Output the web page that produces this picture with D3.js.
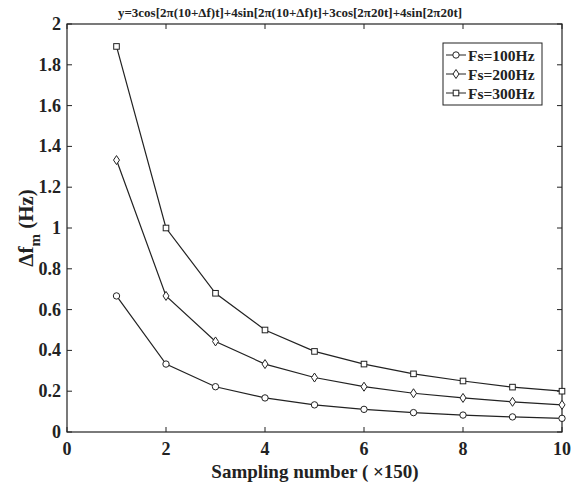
<!DOCTYPE html>
<html><head><meta charset="utf-8">
<script src="https://cdn.jsdelivr.net/npm/d3@7"></script>
<style>body{margin:0;background:#fff}svg{display:block}</style>
</head><body><svg id="c" width="576" height="487"></svg>
<script>
const xValues=[1,2,3,4,5,6,7,8,9,10];
const fs100=[0.667,0.333,0.222,0.167,0.133,0.111,0.095,0.083,0.074,0.067];
const fs200=[1.333,0.667,0.444,0.333,0.267,0.222,0.19,0.167,0.148,0.133];
const fs300=[1.89,1.0,0.68,0.5,0.395,0.333,0.285,0.25,0.22,0.2];
const seriesNames=["Fs=100Hz","Fs=200Hz","Fs=300Hz"];
const markers=["circle","diamond","square"];
const xTicks=[0,2,4,6,8,10];
const yTicks=[0,0.2,0.4,0.6,0.8,1,1.2,1.4,1.6,1.8,2];
const titleText="y=3cos[2π(10+Δf)t]+4sin[2π(10+Δf)t]+3cos[2π20t]+4sin[2π20t]";

const FONT="'Liberation Serif', 'Times New Roman', 'DejaVu Serif', serif";
const svg=d3.select("#c").attr("font-family",FONT).attr("font-weight","bold");
const L=67,R=562,T=24,B=432;
const x=d3.scaleLinear().domain([0,10]).range([L,R]);
const y=d3.scaleLinear().domain([0,2]).range([B,T]);
const col="#222";

svg.append("rect").attr("x",L).attr("y",T).attr("width",R-L).attr("height",B-T).attr("fill","none").attr("stroke",col).attr("stroke-width",1.2);

const tl=5;
const gx=svg.append("g").attr("fill",col);
xTicks.forEach(t=>{
  gx.append("line").attr("x1",x(t)).attr("x2",x(t)).attr("y1",B).attr("y2",B-tl).attr("stroke",col);
  gx.append("line").attr("x1",x(t)).attr("x2",x(t)).attr("y1",T).attr("y2",T+tl).attr("stroke",col);
  gx.append("text").attr("x",x(t)).attr("y",B+23).attr("text-anchor","middle").attr("font-size",18).text(d3.format("d")(t));
});
yTicks.forEach(t=>{
  gx.append("line").attr("x1",L).attr("x2",L+tl).attr("y1",y(t)).attr("y2",y(t)).attr("stroke",col);
  gx.append("line").attr("x1",R).attr("x2",R-tl).attr("y1",y(t)).attr("y2",y(t)).attr("stroke",col);
  gx.append("text").attr("x",L-6).attr("y",y(t)+6).attr("text-anchor","end").attr("font-size",18).text(t===0?"0":(Number.isInteger(t)?String(t):t.toFixed(1)));
});

svg.append("text").attr("x",290).attr("y",17).attr("text-anchor","middle").attr("font-size",13).attr("fill",col).text(titleText);
svg.append("text").attr("x",315).attr("y",478).attr("text-anchor","middle").attr("font-size",19).attr("fill",col).text("Sampling number ( ×150)");
const yl=svg.append("text").attr("transform","translate(33,228) rotate(-90)").attr("text-anchor","middle").attr("font-size",21).attr("fill",col);
yl.append("tspan").text("Δf");
yl.append("tspan").attr("dy",7).attr("font-size",15).text("m");
yl.append("tspan").attr("dy",-7).text(" (Hz)");

function marker(g,type,cx,cy){
  if(type==="circle") g.append("circle").attr("cx",cx).attr("cy",cy).attr("r",3.2).attr("fill","#fff").attr("stroke",col);
  else if(type==="diamond") g.append("path").attr("d",`M${cx},${cy-4.5}L${cx+3},${cy}L${cx},${cy+4.5}L${cx-3},${cy}Z`).attr("fill","#fff").attr("stroke",col);
  else g.append("rect").attr("x",cx-2.8).attr("y",cy-2.8).attr("width",5.6).attr("height",5.6).attr("fill","#fff").attr("stroke",col);
}
const line=d3.line().x((d,i)=>x(xValues[i])).y(d=>y(d));
[fs100,fs200,fs300].forEach((s,k)=>{
  const g=svg.append("g");
  g.append("path").attr("d",line(s)).attr("fill","none").attr("stroke",col).attr("stroke-width",1.2);
  s.forEach((v,i)=>marker(g,markers[k],x(xValues[i]),y(v)));
});

const lg=svg.append("g");
lg.append("rect").attr("x",443).attr("y",43).attr("width",99).attr("height",62).attr("fill","#fff").attr("stroke",col);
[55,74,93].forEach((yy,k)=>{
  lg.append("line").attr("x1",446).attr("x2",466).attr("y1",yy).attr("y2",yy).attr("stroke",col);
  marker(lg,markers[k],456,yy);
  lg.append("text").attr("x",468).attr("y",yy+5.5).attr("font-size",15.5).attr("fill",col).text(seriesNames[k]);
});
</script></body></html>
